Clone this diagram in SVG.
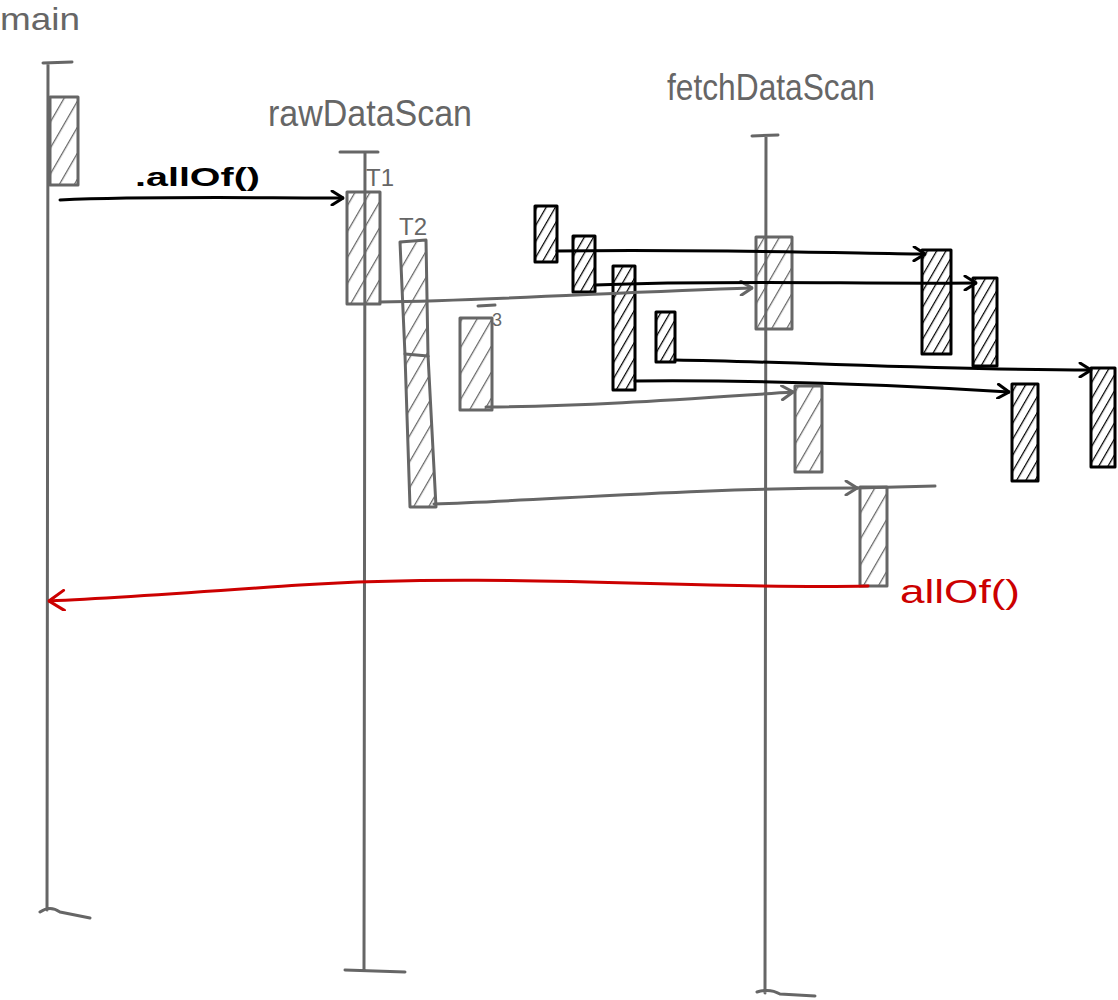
<svg xmlns="http://www.w3.org/2000/svg" width="1118" height="1000" viewBox="0 0 1118 1000">
<style>
.g{stroke:#666;stroke-width:3;fill:none;stroke-linecap:round;stroke-linejoin:round}
.k{stroke:#000;stroke-width:3;fill:none;stroke-linecap:round;stroke-linejoin:round}
.r{stroke:#cc0000;stroke-width:3;fill:none;stroke-linecap:round;stroke-linejoin:round}
.ga{stroke:#666;stroke-width:3;fill:url(#hg);stroke-linejoin:round}
.ka{stroke:#000;stroke-width:3;fill:url(#hk);stroke-linejoin:round}
.lt{font-family:"Liberation Sans",Arial,sans-serif;fill:#666}
.bt{font-family:"Liberation Sans",Arial,sans-serif;fill:#000;font-weight:bold}
.rt{font-family:"Liberation Sans",Arial,sans-serif;fill:#cc0000}
</style>
<defs>
<pattern id="hg" patternUnits="userSpaceOnUse" width="13" height="13" patternTransform="rotate(30)">
<line x1="0" y1="0" x2="0" y2="13" stroke="#666" stroke-width="2.5"/>
</pattern>
<pattern id="hk" patternUnits="userSpaceOnUse" width="8" height="8" patternTransform="rotate(30)">
<line x1="0" y1="0" x2="0" y2="8" stroke="#000" stroke-width="2.5"/>
</pattern>
<marker id="ak" viewBox="0 0 14 16" refX="13" refY="8" markerWidth="14" markerHeight="16" markerUnits="userSpaceOnUse" orient="auto">
<path d="M2,1 L13,8 L2,15" fill="none" stroke="#000" stroke-width="3" stroke-linecap="round"/>
</marker>
<marker id="ag" viewBox="0 0 14 16" refX="13" refY="8" markerWidth="14" markerHeight="16" markerUnits="userSpaceOnUse" orient="auto">
<path d="M2,1 L13,8 L2,15" fill="none" stroke="#666" stroke-width="3" stroke-linecap="round"/>
</marker>
<marker id="ar" viewBox="0 0 18 22" refX="17" refY="11" markerWidth="18" markerHeight="22" markerUnits="userSpaceOnUse" orient="auto">
<path d="M2,1 L17,11 L2,21" fill="none" stroke="#cc0000" stroke-width="3" stroke-linecap="round"/>
</marker>
</defs>
<rect width="1118" height="1000" fill="#fff"/>

<g id="main">
<text class="lt" x="0" y="30" font-size="32" textLength="80" lengthAdjust="spacingAndGlyphs">main</text>
<path class="g" d="M43,63 L72,62 M48,63 L47,910 M40,912 Q50,905 60,912 L90,918"/>
</g>
<g id="main-act">
<rect class="ga" x="50" y="97" width="28" height="88"/>
</g>

<g id="rawDataScan">
<text class="lt" x="268" y="126" font-size="36" textLength="204" lengthAdjust="spacingAndGlyphs">rawDataScan</text>
<path class="g" d="M340,152 L378,152 M365,152 L364,970 M345,970 L405,972"/>
</g>
<g id="T1">
<text class="lt" x="366" y="186" font-size="24">T1</text>
<rect class="ga" x="347" y="192" width="33" height="112"/>
</g>
<g id="T2">
<text class="lt" x="399" y="235" font-size="24">T2</text>
<path class="ga" d="M400,242 L426,240 L428,355 L436,507 L410,507 L405,355 Z"/>
<path class="g" d="M405,354 L428,356"/>
</g>
<g id="T3">
<path class="g" d="M478,306 L495,305"/>
<text class="lt" x="492" y="326" font-size="18">3</text>
<rect class="ga" x="460" y="318" width="32" height="92"/>
</g>

<g id="fetchDataScan">
<text class="lt" x="667" y="100" font-size="36" textLength="208" lengthAdjust="spacingAndGlyphs">fetchDataScan</text>
<path class="g" d="M752,136 L778,135 M766,136 L765,993 M757,992 Q770,988 780,994 L815,996"/>
</g>
<g id="fetch-act1"><rect class="ga" x="756" y="237" width="36" height="92"/></g>
<g id="fetch-act2"><rect class="ga" x="795" y="386" width="27" height="86"/></g>
<g id="fetch-act3"><rect class="ga" x="860" y="487" width="27" height="99"/></g>

<g id="task1"><rect class="ka" x="535" y="206" width="22" height="56"/></g>
<g id="task2"><rect class="ka" x="573" y="236" width="22" height="56"/></g>
<g id="task3"><rect class="ka" x="613" y="266" width="22" height="124"/></g>
<g id="task4"><rect class="ka" x="656" y="312" width="19" height="50"/></g>
<g id="res1"><rect class="ka" x="922" y="250" width="29" height="104"/></g>
<g id="res2"><rect class="ka" x="973" y="278" width="24" height="88"/></g>
<g id="res3"><rect class="ka" x="1012" y="384" width="26" height="97"/></g>
<g id="res4"><rect class="ka" x="1091" y="368" width="24" height="99"/></g>

<g id="connectors">
<path class="k" d="M60,200 C150,196 250,198 343,198" marker-end="url(#ak)"/>
<text class="bt" x="135" y="186" font-size="26" textLength="125" lengthAdjust="spacingAndGlyphs">.allOf()</text>
<path class="g" d="M380,302 C500,300 620,292 752,288" marker-end="url(#ag)"/>
<path class="g" d="M486,407 C600,406 700,398 793,392" marker-end="url(#ag)"/>
<path class="g" d="M434,504 C550,500 700,488 857,488" marker-end="url(#ag)"/>
<path class="g" d="M857,488 L935,486"/>
<path class="k" d="M557,251 C680,249 800,252 925,254" marker-end="url(#ak)"/>
<path class="k" d="M595,285 C720,280 850,284 976,283" marker-end="url(#ak)"/>
<path class="k" d="M675,360 C800,362 950,370 1091,370" marker-end="url(#ak)"/>
<path class="k" d="M635,381 C760,380 900,385 1009,392" marker-end="url(#ak)"/>
<path class="r" d="M868,586 C700,590 500,572 300,585 C200,592 120,598 49,601" marker-end="url(#ar)"/>
<text class="rt" x="900" y="603" font-size="34" textLength="120" lengthAdjust="spacingAndGlyphs">allOf()</text>
</g>
</svg>
